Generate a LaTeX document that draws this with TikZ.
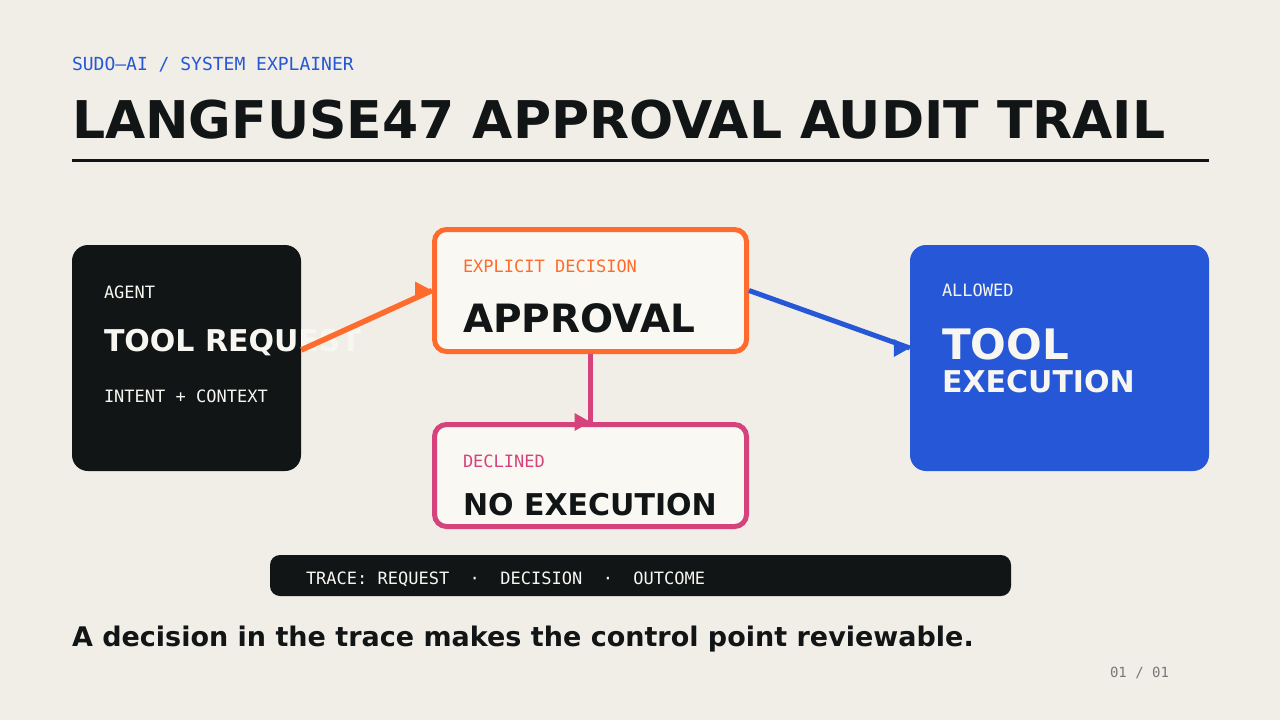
\documentclass[tikz,border=0pt]{standalone}
\usepackage{fontspec}
\setmainfont{DejaVu Sans}
\setmonofont{DejaVu Sans Mono}
\usetikzlibrary{positioning}

\definecolor{paper}{HTML}{F1EEE7}
\definecolor{ink}{HTML}{111516}
\definecolor{accblue}{HTML}{2557D6}
\definecolor{accorange}{HTML}{FF6B2C}
\definecolor{accpink}{HTML}{D6437C}
\definecolor{card}{HTML}{FAF8F3}
\definecolor{snow}{HTML}{F8F6F0}
\definecolor{muted}{HTML}{777777}

\newcommand{\fs}[1]{\fontsize{#1}{#1}\selectfont}

\begin{document}
\begin{tikzpicture}[x=1pt,y=-1pt]
	\tikzstyle{txt}=[anchor=base west,inner sep=0pt,outer sep=0pt]
	\tikzstyle{mono}=[txt,font=\ttfamily\fs{17}]
	\tikzstyle{heavy}=[txt,font=\bfseries\fs{30}]
	\tikzstyle{solid box}=[rectangle,rounded corners=16pt,inner sep=0pt]
	\tikzstyle{card box}=[rectangle,rounded corners=12pt,inner sep=0pt,fill=card,line width=5pt]
	\tikzstyle{link}=[line width=5pt]

	% page
	\fill[paper] (0,0) rectangle (1280,720);
	\useasboundingbox (0,0) rectangle (1280,720);

	% header
	\node[txt,font=\ttfamily\fs{18},text=accblue] (kicker) at (72,70) {SUDO—AI / SYSTEM EXPLAINER};
	\node[txt,font=\bfseries\fs{52},text=ink] (title) at (72,138) {LANGFUSE47 APPROVAL AUDIT TRAIL};
	\coordinate (ruleL) at (72,160.5);
	\coordinate (ruleR) at (1209,160.5);
	\draw[ink,line width=3pt] (ruleL) -- (ruleR);

	% boxes
	\node[solid box,fill=ink,minimum width=229pt,minimum height=226pt] (req) at (186.5,358) {};
	\node[card box,draw=accorange,minimum width=312pt,minimum height=122pt] (appr) at (590.5,290.5) {};
	\node[card box,draw=accpink,minimum width=312pt,minimum height=102pt] (decl) at (590.5,475.5) {};
	\node[solid box,fill=accblue,minimum width=299pt,minimum height=226pt] (allow) at (1059.5,358) {};

	% box texts
	\node[mono,text=snow] (reqtag) at (104,298) {AGENT};
	\node[heavy,text=snow] (reqname) at (104,351) {TOOL REQUEST};
	\node[mono,text=snow] (reqnote) at (104,402) {INTENT + CONTEXT};

	\node[mono,text=accorange] (apprtag) at (463,272) {EXPLICIT DECISION};
	\node[heavy,font=\bfseries\fs{39},text=ink] (apprname) at (463,332) {APPROVAL};

	\node[mono,text=accpink] (decltag) at (463,467) {DECLINED};
	\node[heavy,text=ink] (declname) at (463,515) {NO EXECUTION};

	\node[mono,text=snow] (allowtag) at (942,296) {ALLOWED};
	\node[heavy,font=\bfseries\fs{42},text=snow] (allowname) at (942,359) {TOOL};
	\node[heavy,text=snow] (allowsub) at (942,392) {EXECUTION};

	% connectors (tips always face right)
	\draw[link,accorange,line width=5.5pt] ([yshift=8pt]req.east) -- (appr.west);
	\fill[accorange] (appr.west) -- ++(-17,-9) -- ++(0,18) -- cycle;
	\draw[link,accblue] (appr.east) -- ([yshift=10pt]allow.west) coordinate (allowin);
	\fill[accblue] (allowin) -- ++(-16,-9) -- ++(0,18) -- cycle;
	\draw[link,accpink] (appr.south) -- (decl.north);
	\fill[accpink] (decl.north) -- ++(-16,-9) -- ++(0,18) -- cycle;

	% trace bar
	\node[solid box,fill=ink,rounded corners=10pt,minimum width=741pt,minimum height=41pt] (trace) at (640.5,575.5) {};
	\node[mono,text=snow] (tracetext) at (306,584) {TRACE: REQUEST~~·~~DECISION~~·~~OUTCOME};

	% footer
	\node[txt,font=\bfseries\fs{27},text=ink] (moral) at (72,646) {A decision in the trace makes the control point reviewable.};
	\node[txt,font=\ttfamily\fs{14},text=muted] (pager) at (1110,677) {01 / 01};
\end{tikzpicture}
\end{document}
